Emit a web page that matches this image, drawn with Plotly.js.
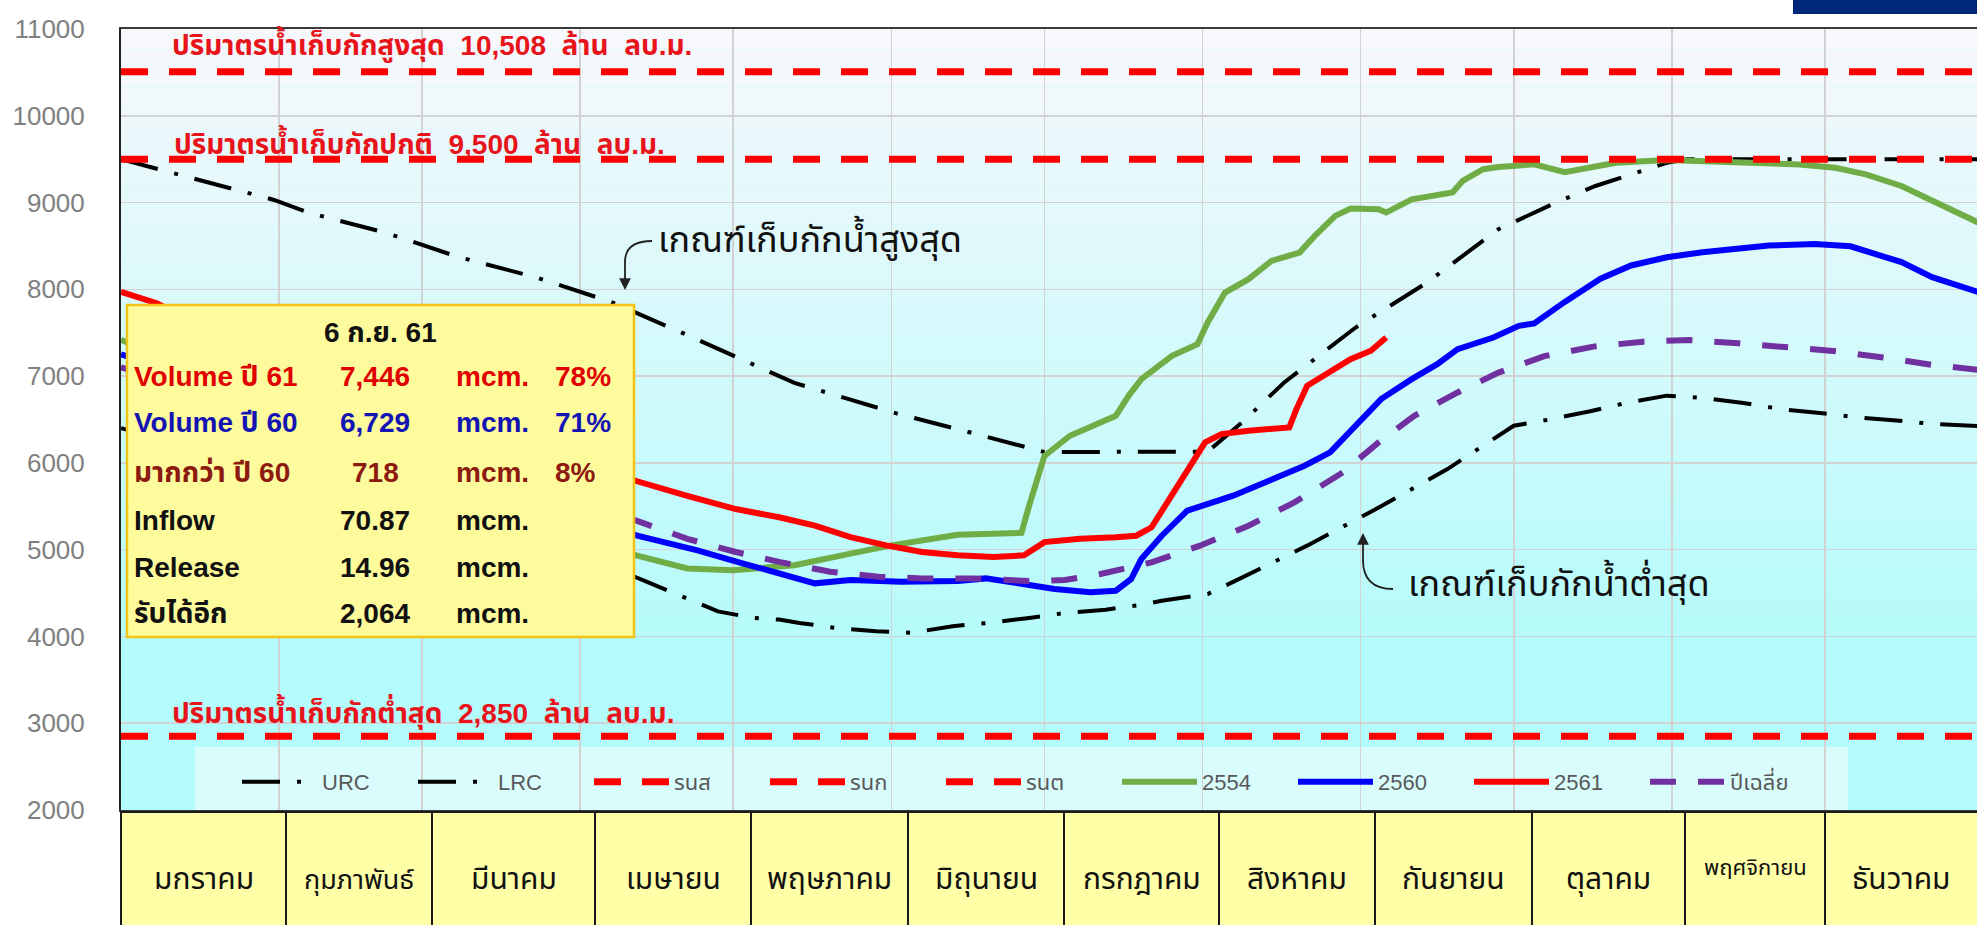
<!DOCTYPE html>
<html>
<head>
<meta charset="utf-8">
<script src="https://cdn.plot.ly/plotly-3.0.1.min.js"></script>
<style>
html, body { margin: 0; padding: 0; background: #fff; overflow: hidden; }
#plotContainer { width: 1977px; height: 925px; }
</style>
</head>
<body>
<div id="plotContainer"></div>
<script>
"use strict";

// x = day of year (0 = 1 Jan), y = storage (million m3)
const urcDay = [0, 30, 37, 52, 66, 81, 96, 110, 132, 152, 167, 181, 213, 220, 228, 242, 256, 270, 281, 289, 295, 303, 307, 365];
const urcVol = [9500, 9030, 8880, 8650, 8375, 8144, 7856, 7499, 6922, 6570, 6342, 6125, 6130, 6480, 6927, 7560, 8079, 8693, 8992, 9191, 9305, 9458, 9500, 9500];

const lrcDay = [0, 31, 59, 90, 103, 111, 117, 124, 129, 133, 140, 148, 155, 163, 170, 178, 185, 193, 200, 204, 213, 218.5, 232.5, 246, 260, 273, 280, 288, 295, 303, 310, 318, 326, 333, 340, 348, 355, 364];
const lrcVol = [6400, 5950, 5500, 4950, 4631, 4441, 4289, 4213, 4194, 4156, 4099, 4061, 4042, 4118, 4156, 4213, 4270, 4308, 4365, 4412, 4489, 4643, 5046, 5468, 5929, 6428, 6500, 6595, 6691, 6775, 6748, 6691, 6614, 6576, 6527, 6488, 6450, 6424];

const yearSpan = [0, 365];
const maxLevel = 10508;     // รนส
const normalLevel = 9500;   // รนก
const minLevel = 2850;      // รนต

const g2554Day = [0, 30, 60, 90, 101, 111, 120, 132, 143, 151, 164, 176.5, 178, 181, 186, 195, 197.5, 200, 206, 211, 213, 216.4, 221, 225.5, 231, 234, 238, 241, 246.5, 248, 253, 261, 263, 267, 270, 277, 283, 293, 303, 316, 329, 336, 342, 349, 355, 364];
const g2554Vol = [7420, 6600, 5800, 5150, 4935, 4783, 4764, 4821, 4954, 5049, 5171, 5194, 5506, 6080, 6313, 6543, 6773, 6965, 7234, 7368, 7618, 7963, 8117, 8328, 8424, 8616, 8846, 8931, 8923, 8885, 9038, 9115, 9250, 9384, 9410, 9440, 9350, 9458, 9489, 9469, 9439, 9401, 9324, 9191, 9019, 8771];

const b2560Day = [0, 30, 60, 90, 101, 113, 122, 129, 136, 143, 153, 164, 169.5, 178, 183, 190, 195, 198, 200, 204, 209, 218, 225, 232, 237, 242, 247, 253, 258, 262, 269, 274, 277, 283, 290, 296, 303, 310, 323, 332, 339, 349, 355, 364];
const b2560Vol = [7250, 6700, 6100, 5450, 5163, 4992, 4840, 4726, 4612, 4650, 4631, 4639, 4669, 4593, 4547, 4508, 4527, 4662, 4892, 5161, 5449, 5622, 5794, 5967, 6121, 6428, 6735, 6965, 7138, 7311, 7445, 7580, 7607, 7855, 8122, 8275, 8370, 8427, 8504, 8523, 8496, 8313, 8141, 7969];

const r2561Day = [0, 7, 30, 60, 90, 101, 111, 120.5, 129, 136, 143, 150, 157, 164, 171, 177, 181, 188, 195, 199, 202, 206, 209.4, 212.5, 215.7, 221, 229, 230.4, 232.5, 236.7, 241, 245, 248];
const r2561Vol = [7970, 7840, 7150, 6550, 6050, 5791, 5620, 5468, 5373, 5278, 5144, 5049, 4973, 4935, 4916, 4935, 5087, 5125, 5144, 5161, 5257, 5622, 5929, 6236, 6332, 6370, 6409, 6620, 6889, 7042, 7196, 7292, 7446];

const avgDay = [0, 30, 60, 90, 101, 111, 120.5, 129, 139, 148.5, 157, 167, 178, 185, 192, 202, 211.5, 221, 230, 239.5, 246.5, 253.5, 262, 270, 279, 288.6, 298.4, 307.5, 317, 326.5, 335.6, 345.4, 355, 364];
const avgVol = [7100, 6600, 6050, 5550, 5335, 5125, 4973, 4859, 4745, 4688, 4669, 4669, 4639, 4650, 4720, 4854, 5046, 5276, 5545, 5890, 6236, 6543, 6812, 7040, 7230, 7340, 7397, 7416, 7378, 7340, 7290, 7214, 7130, 7072];

const monthStart = [0, 31, 59, 90, 120, 151, 181, 212, 243, 273, 304, 334];
const monthNames = ["มกราคม", "กุมภาพันธ์", "มีนาคม", "เมษายน", "พฤษภาคม", "มิถุนายน", "กรกฎาคม", "สิงหาคม", "กันยายน", "ตุลาคม", "พฤศจิกายน", "ธันวาคม"];

const infoDate = "6 ก.ย. 61";
const infoLabels = ["Volume ปี 61", "Volume ปี 60", "มากกว่า ปี 60", "Inflow", "Release", "รับได้อีก"];
const infoValues = ["7,446", "6,729", "718", "70.87", "14.96", "2,064"];
const infoPct = ["78%", "71%", "8%", "", "", ""];

// ---- page geometry (px) ----
const W = 1977, H = 925, L = 121, T = 29, B = 115;
const PW = W - L, PH = H - T - B;
const px = (x) => (x - L) / PW;
const py = (y) => (H - B - y) / PH;
const tableEdges = [121, 286, 432, 595, 751, 908, 1064, 1219, 1375, 1532, 1685, 1825, 1990];

const SANS = "Liberation Sans, Arial, Noto Sans Thai, Loma, Garuda, sans-serif";
const NARROW = "Liberation Sans Narrow, Arial Narrow, Liberation Sans, Noto Sans Thai, Loma, sans-serif";
const THAI = "Noto Sans Thai, Loma, Garuda, Tahoma, Liberation Sans, sans-serif";

function line(name, x, y, color, width, dash, rank) {
    return { type: 'scatter', mode: 'lines', name: name, x: x, y: y, legendrank: rank,
        line: { color: color, width: width, dash: dash }, hoverinfo: 'skip' };
}
const flat = (v) => yearSpan.map(() => v);

const refDash = "27px,21px";
const ruleDash = "38px,17px,4px,17px";

// storage-level lines drawn last (on top), legend order kept by rank
var plotData = [
    line("URC", urcDay, urcVol, "#000000", 4, ruleDash, 1),
    line("LRC", lrcDay, lrcVol, "#000000", 4, ruleDash, 2),
    line("2554", g2554Day, g2554Vol, "#70ad47", 6, "solid", 6),
    line("2560", b2560Day, b2560Vol, "#0000ff", 6, "solid", 7),
    line("2561", r2561Day, r2561Vol, "#ff0000", 6, "solid", 8),
    line("ปีเฉลี่ย", avgDay, avgVol, "#7030a0", 6, "26px,22px", 9),
    line("รนส", yearSpan, flat(maxLevel), "#ff0000", 7, refDash, 3),
    line("รนก", yearSpan, flat(normalLevel), "#ff0000", 7, refDash, 4),
    line("รนต", yearSpan, flat(minLevel), "#ff0000", 7, refDash, 5),
];

// background gradient, white-blue at top to cyan lower down
let shapes = [];
const gradTop = [246, 248, 251], gradBot = [180, 251, 251];
const bands = 40;
for (let i = 0; i < bands; i++) {
    let f = Math.min(1, i / (bands * 0.78));
    let c = gradTop.map((t, k) => Math.round(t + (gradBot[k] - t) * f));
    shapes.push({ type: 'rect', layer: 'below', xref: 'paper', yref: 'paper',
        x0: 0, x1: 1, y0: 1 - (i + 1) / bands, y1: 1 - i / bands,
        fillcolor: `rgb(${c.join(',')})`, line: { width: 0 } });
}
// legend panel
shapes.push({ type: 'rect', layer: 'below', xref: 'paper', yref: 'paper',
    x0: px(195), x1: px(1848), y0: 0, y1: py(747),
    fillcolor: '#d9fdfd', line: { width: 0 } });

// month table under the plot
tableEdges.slice(0, -1).forEach((e, i) => {
    shapes.push({ type: 'rect', layer: 'above', xref: 'paper', yref: 'paper',
        x0: px(e), x1: px(tableEdges[i + 1]), y0: py(930), y1: py(812),
        fillcolor: '#ffffa8', line: { color: '#1a1a1a', width: 2 } });
});

// info box
shapes.push({ type: 'rect', layer: 'above', xref: 'paper', yref: 'paper',
    x0: px(127), x1: px(634), y0: py(637), y1: py(305),
    fillcolor: '#fefb9c', line: { color: '#f0c419', width: 2.5 } });

// curved leaders of the two rule-curve labels
shapes.push({ type: 'path', layer: 'above', xref: 'paper', yref: 'paper',
    path: `M${px(652)},${py(241)} Q${px(625)},${py(241)} ${px(625)},${py(262)}`,
    line: { color: '#222', width: 1.8 } });
shapes.push({ type: 'path', layer: 'above', xref: 'paper', yref: 'paper',
    path: `M${px(1363)},${py(560)} Q${px(1363)},${py(589)} ${px(1393)},${py(589)}`,
    line: { color: '#222', width: 1.8 } });

// dark blue band at top right
shapes.push({ type: 'rect', layer: 'above', xref: 'paper', yref: 'paper',
    x0: px(1793), x1: px(1990), y0: py(14), y1: py(-5),
    fillcolor: '#00287a', line: { width: 0 } });

function note(text, x, y, font, anchor) {
    return { xref: 'paper', yref: 'paper', x: px(x), y: py(y), text: text,
        showarrow: false, xanchor: anchor || 'left', yanchor: 'middle', font: font };
}
const redBold = { family: SANS, size: 28, color: '#e8141c', weight: 'bold' };
const ruleFont = { family: THAI, size: 36, color: '#111' };

let annotations = [
    note("ปริมาตรน้ำเก็บกักสูงสุด  10,508  ล้าน  ลบ.ม.", 170, 44, redBold),
    note("ปริมาตรน้ำเก็บกักปกติ  9,500  ล้าน  ลบ.ม.", 172, 142, redBold),
    note("ปริมาตรน้ำเก็บกักต่ำสุด  2,850  ล้าน  ลบ.ม.", 170, 711, redBold),
    note("เกณฑ์เก็บกักน้ำสูงสุด", 656, 241, ruleFont),
    note("เกณฑ์เก็บกักน้ำต่ำสุด", 1406, 585, ruleFont),
    { xref: 'paper', yref: 'paper', x: px(625), y: py(290), ax: 0, ay: -30, text: '',
      showarrow: true, arrowhead: 2, arrowsize: 1.3, arrowwidth: 1.8, arrowcolor: '#222' },
    { xref: 'paper', yref: 'paper', x: px(1363), y: py(533), ax: 0, ay: 30, text: '',
      showarrow: true, arrowhead: 2, arrowsize: 1.3, arrowwidth: 1.8, arrowcolor: '#222' },
];

// info box text
const rowColor = ['#e00000', '#1414b4', '#8c1a10', '#111', '#111', '#111'];
const rowY = [377, 423, 472, 520, 567, 613];
const boxFont = (c) => ({ family: SANS, size: 28, color: c, weight: 'bold' });
annotations.push(note(infoDate, 380, 332, boxFont('#111'), 'center'));
infoLabels.forEach((lab, i) => {
    let f = boxFont(rowColor[i]);
    annotations.push(note(lab, 132, rowY[i], f));
    annotations.push(note(infoValues[i], 375, rowY[i], f, 'center'));
    annotations.push(note("mcm.", 454, rowY[i], f));
    if (infoPct[i]) annotations.push(note(infoPct[i], 553, rowY[i], f));
});

// month names, shrunk to fit the narrow cells
monthNames.forEach((m, i) => {
    let cellW = tableEdges[i + 1] - tableEdges[i];
    let cx = (tableEdges[i] + Math.min(tableEdges[i + 1], W)) / 2;
    let size = cellW >= 150 ? 30 : (cellW >= 145 ? 27 : 22);
    annotations.push(note(m, cx, size < 25 ? 868 : 880,
        { family: THAI, size: size, color: '#111' }, 'center'));
});

var layout = {
    width: W,
    height: H,
    margin: { l: L, r: 0, t: T, b: B, pad: 0 },
    paper_bgcolor: '#ffffff',
    plot_bgcolor: '#b4fbfb',
    showlegend: true,
    legend: {
        orientation: 'h', x: px(237), xanchor: 'left', y: py(782), yanchor: 'middle',
        bgcolor: 'rgba(0,0,0,0)', itemwidth: 75, entrywidth: 86, entrywidthmode: 'pixels',
        font: { family: NARROW, size: 22, color: '#595959' },
    },
    xaxis: {
        range: [0, 363.8], tickvals: monthStart, showticklabels: false, ticks: '',
        showgrid: true, gridcolor: '#d2d2d2', gridwidth: 1.5, zeroline: false,
        showline: true, mirror: true, linecolor: '#3a3a3a', linewidth: 2, fixedrange: true,
    },
    yaxis: {
        range: [2000, 11000], tick0: 2000, dtick: 1000, ticks: '', tickformat: 'd',
        showgrid: true, gridcolor: '#d2d2d2', gridwidth: 1.5, zeroline: false,
        showline: true, linecolor: '#222', linewidth: 2,
        tickfont: { family: SANS, size: 26, color: '#808080' },
        ticklabelstandoff: 29, fixedrange: true,
    },
    shapes: shapes,
    annotations: annotations,
};

Plotly.newPlot('plotContainer', plotData, layout, { displayModeBar: false, staticPlot: true });
</script>
</body>
</html>
